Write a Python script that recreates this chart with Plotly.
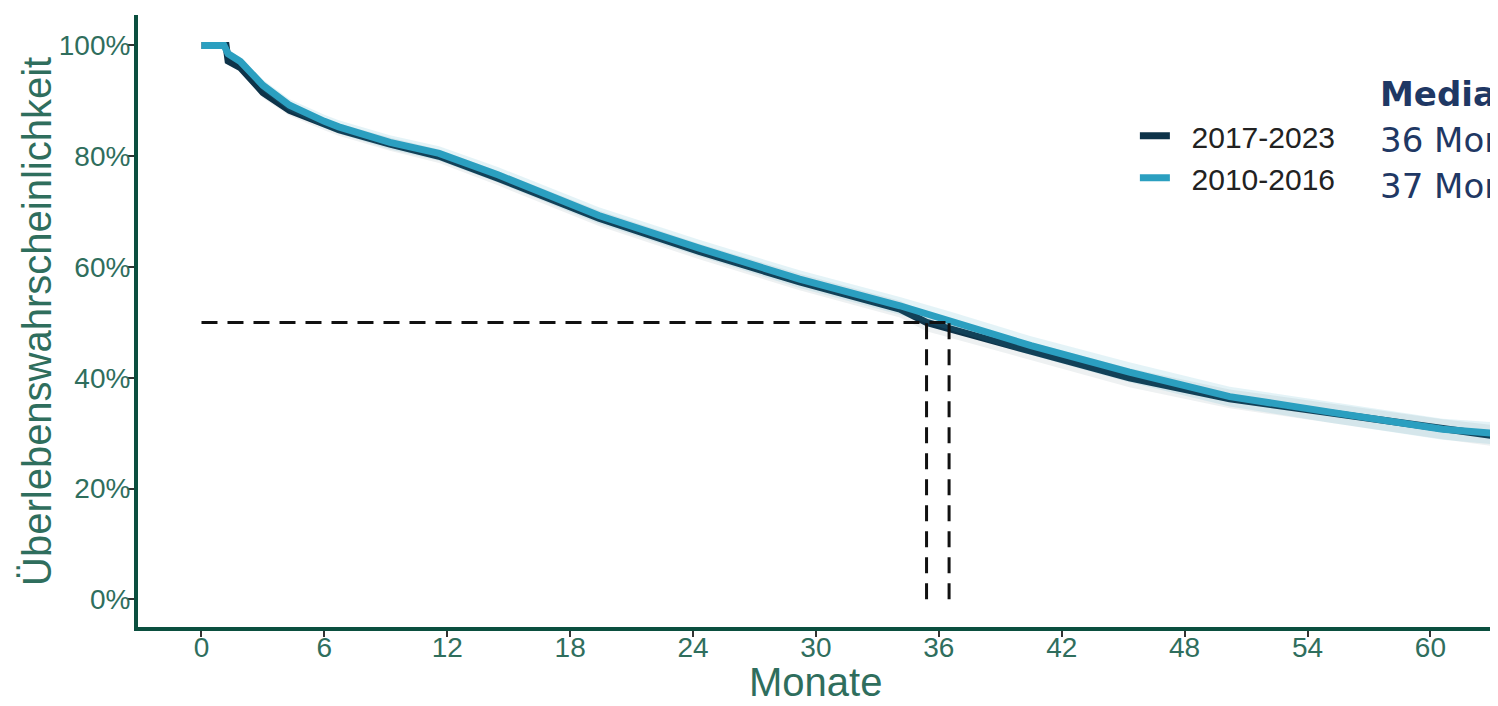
import plotly.graph_objects as go

# ---- data (months, survival %) ----
months_2010 = [0, 1.1, 1.3, 1.9, 3.0, 4.3, 6.0, 6.7, 9.2, 11.6, 14.5, 19.4, 24.3, 29.2, 34.1, 36.5, 40.5, 45.3, 50.2, 55.1, 60.6, 63.0]
surv_2010 = [100, 100, 98.5, 97.1, 92.8, 89.2, 86.3, 85.3, 82.5, 80.5, 76.6, 69.3, 63.4, 57.8, 53.0, 50.3, 45.8, 41.0, 36.6, 33.8, 30.7, 30.0]
ci_2010 = [0, 0, 0.6, 0.8, 1.0, 1.1, 1.2, 1.2, 1.3, 1.3, 1.4, 1.5, 1.5, 1.6, 1.6, 1.7, 1.7, 1.8, 1.8, 1.9, 1.9, 2.0]

months_2017 = [0, 1.2, 1.3, 1.9, 3.0, 4.3, 6.0, 6.7, 9.2, 11.6, 14.5, 19.4, 24.3, 29.2, 34.1, 35.4, 40.5, 45.3, 50.2, 55.1, 60.6, 63.0]
surv_2017 = [100, 100, 97.2, 96.0, 91.5, 88.3, 85.8, 84.8, 82.2, 80.0, 76.0, 68.8, 62.8, 57.3, 52.4, 50.0, 44.8, 40.0, 36.2, 33.6, 30.7, 29.6]
ci_2017 = [0, 0, 0.6, 0.8, 1.0, 1.0, 1.1, 1.1, 1.2, 1.2, 1.3, 1.4, 1.4, 1.5, 1.5, 1.6, 1.6, 1.7, 1.7, 1.8, 1.8, 1.9]

series_names = ["2017-2023", "2010-2016"]
medians = [35.4, 36.5]          # x position of median lines (months)
median_labels = ["36 Monate", "37 Monate"]

x_ticks = [0, 6, 12, 18, 24, 30, 36, 42, 48, 54, 60]
y_ticks = [0, 20, 40, 60, 80, 100]
y_ticktext = ["0%", "20%", "40%", "60%", "80%", "100%"]

col_light = "#2b9fc0"
col_dark = "#0e3349"
green = "#0b4f3f"
label_green = "#2f6e5d"

fig = go.Figure()

def add_series(m, s, ci, name, col, band):
    upper = [v + c for v, c in zip(s, ci)]
    lower = [v - c for v, c in zip(s, ci)]
    fig.add_trace(go.Scatter(x=m + m[::-1], y=upper + lower[::-1], fill="toself",
                             fillcolor=band, line=dict(width=0), hoverinfo="skip",
                             showlegend=False))
    fig.add_trace(go.Scatter(x=m, y=s, mode="lines", name="\u00a0\u00a0" + name,
                             line=dict(color=col, width=7)))

add_series(months_2017, surv_2017, ci_2017, series_names[0], col_dark, "rgba(14,51,73,0.07)")
add_series(months_2010, surv_2010, ci_2010, series_names[1], col_light, "rgba(43,159,192,0.13)")

# median reference lines
dash_style = dict(color="#111", width=3, dash="16px,10px")
fig.add_trace(go.Scatter(x=[0, max(medians)], y=[50, 50], mode="lines",
                         line=dash_style, showlegend=False, hoverinfo="skip"))
for md in medians:
    fig.add_trace(go.Scatter(x=[md, md], y=[0, 50], mode="lines",
                             line=dash_style, showlegend=False, hoverinfo="skip"))

fig.update_layout(
    width=1490, height=698,
    margin=dict(l=130, r=0, t=7, b=79),
    paper_bgcolor="white", plot_bgcolor="white",
    showlegend=True,
    legend=dict(x=0.733, y=0.845, xanchor="left", yanchor="top",
                traceorder="normal", bgcolor="rgba(0,0,0,0)",
                font=dict(family="Liberation Sans", size=30, color="#222"),
                itemwidth=30, tracegroupgap=0),
    xaxis=dict(range=[-3.1, 63.3], tickvals=x_ticks, showgrid=False, zeroline=False,
               showline=True, linecolor=green, linewidth=4,
               ticks="outside", ticklen=6, tickwidth=2, tickcolor="#333",
               ticklabelstandoff=-14,
               tickfont=dict(family="Liberation Sans", size=28, color=label_green)),
    yaxis=dict(range=[-5, 105.5], tickvals=y_ticks, ticktext=y_ticktext, showgrid=False,
               zeroline=False, showline=True, linecolor=green, linewidth=4,
               ticks="outside", ticklen=6, tickwidth=2, tickcolor="#333",
               ticklabelstandoff=-8,
               tickfont=dict(family="Liberation Sans", size=28, color=label_green)),
    annotations=[
        dict(text="Monate", xref="paper", yref="paper", x=0.498, y=-0.09,
             xanchor="center", yanchor="middle", showarrow=False,
             font=dict(family="Liberation Sans", size=40, color=label_green)),
        dict(text="Überlebenswahrscheinlichkeit", xref="paper", yref="paper",
             x=-0.0743, y=0.5, textangle=-90, xanchor="center", yanchor="middle",
             showarrow=False,
             font=dict(family="Liberation Sans", size=40, color=label_green)),
        dict(text="<b>Median</b>", xref="paper", yref="paper", x=0.912, y=0.871,
             xanchor="left", yanchor="middle", showarrow=False,
             font=dict(family="DejaVu Sans", size=34, color="#1f3864")),
        dict(text=median_labels[0], xref="paper", yref="paper", x=0.912, y=0.795,
             xanchor="left", yanchor="middle", showarrow=False,
             font=dict(family="DejaVu Sans", size=34, color="#1f3864")),
        dict(text=median_labels[1], xref="paper", yref="paper", x=0.912, y=0.721,
             xanchor="left", yanchor="middle", showarrow=False,
             font=dict(family="DejaVu Sans", size=34, color="#1f3864")),
    ],
)

fig.write_html("out.html")
